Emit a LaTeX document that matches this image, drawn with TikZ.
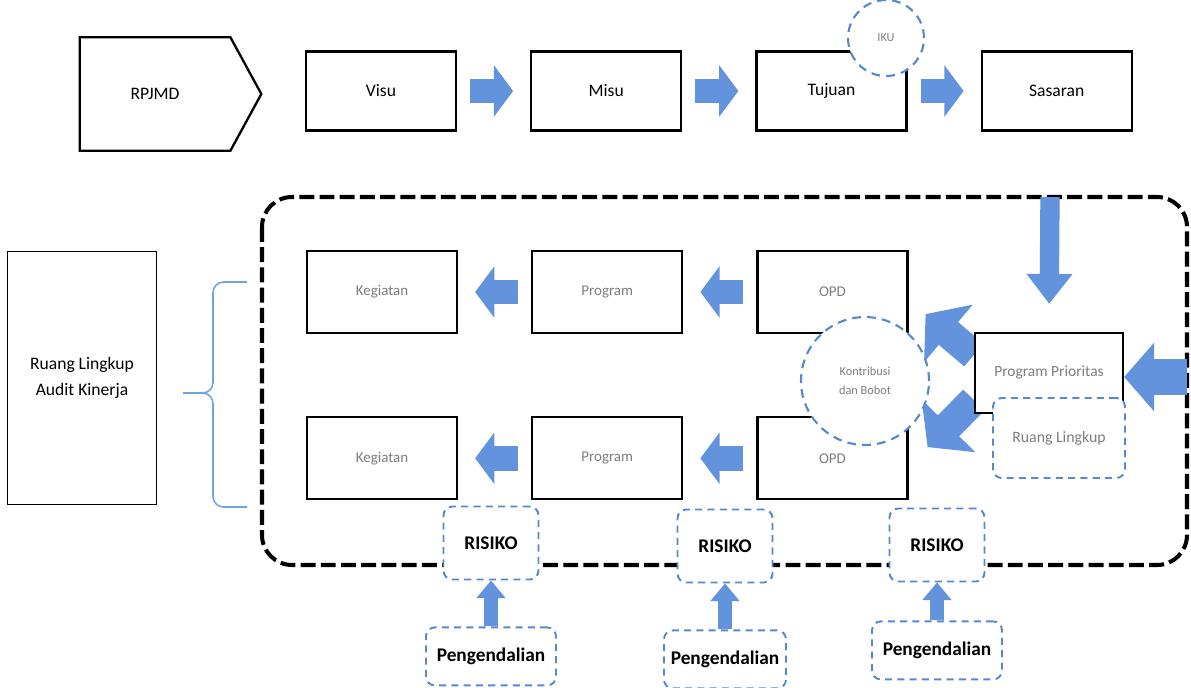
\documentclass[tikz,border=0pt]{standalone}
\usepackage{fontspec}
\setmainfont{Carlito}
\usepackage{xcolor}
\usetikzlibrary{arrows.meta,positioning,calc,backgrounds}

\definecolor{arrowblue}{RGB}{98,147,220}
\definecolor{dashblue}{RGB}{84,137,206}
\definecolor{bracecol}{RGB}{110,165,225}
\definecolor{labelgrey}{RGB}{125,125,125}

\tikzset{
  box/.style={rectangle, draw, line width=1.3pt, minimum width=3cm, minimum height=1.58cm, fill=white, font=\fontsize{10}{12}\selectfont},
  rowbox/.style={box, minimum height=1.64cm, text=labelgrey, font=\fontsize{8.5}{10}\selectfont},
  bluebox/.style={rectangle, draw=dashblue, line width=1.1pt, dash pattern=on 4pt off 3pt, rounded corners=5pt, fill=white},
  bluecircle/.style={circle, draw=dashblue, line width=1.2pt, dash pattern=on 5pt off 3.5pt, fill=white},
  riskbox/.style={bluebox, minimum width=1.9cm, minimum height=1.46cm, font=\fontsize{11}{13}\selectfont\bfseries},
  ctrlbox/.style={bluebox, minimum width=2.6cm, minimum height=1.16cm, font=\fontsize{11}{13}\selectfont\bfseries},
  frame/.style={line width=2.3pt, dash pattern=on 8.5pt off 3pt, rounded corners=0.6cm},
  bracket/.style={bracecol, line width=0.9pt, rounded corners=6pt},
  fatarrow/.style={arrowblue, line width=14pt, -{Triangle[width=29pt,length=11pt]}, shorten <=0.26cm, shorten >=0.34cm},
  diagarrow/.style={arrowblue, line width=17pt, -{Triangle[width=42pt,length=17pt]}},
  downarrow/.style={arrowblue, line width=11pt, -{Triangle[width=25pt,length=17pt]}},
  inarrow/.style={arrowblue, line width=20pt, -{Triangle[width=38pt,length=17pt]}},
  uparrow/.style={arrowblue, line width=8pt, -{Triangle[width=16pt,length=10pt]}}
}

\begin{document}
\begin{tikzpicture}[x=0.02cm, y=-0.02cm]
\useasboundingbox (0,0) rectangle (1191,687);

% dashed frame
\draw[frame] (262,197) rectangle (1187,565);
\coordinate (ftop) at (1050,197);
\coordinate (fright) at (1187,377);

% top row
\node[minimum width=3cm, minimum height=2.26cm, font=\fontsize{10}{12}\selectfont] (rpjmd) at (155,94) {RPJMD};
\draw[line width=1.3pt] (rpjmd.south west) |- (rpjmd.north east) -- ($(rpjmd.east)+(31,0)$) -- (rpjmd.south east) -- cycle;
\node[box] (visu) at (381,91) {Visu};
\node[box, right=1.46cm of visu] (misu) {Misu};
\node[box, right=1.46cm of misu] (tujuan) {Tujuan};
\node[box, right=1.46cm of tujuan] (sasaran) {Sasaran};
\node[bluecircle, minimum size=1.52cm, text=labelgrey, font=\fontsize{7}{8}\selectfont] (iku) at (886,38) {IKU};

\draw[fatarrow] (visu) -- (misu);
\draw[fatarrow] (misu) -- (tujuan);
\draw[fatarrow] (tujuan) -- (sasaran);

% left scope box
\node[rectangle, draw, line width=0.9pt, minimum width=2.98cm, minimum height=5.06cm, align=center, font=\fontsize{10}{15}\selectfont] (audit) at (82,378) {Ruang Lingkup\\Audit Kinerja};
\coordinate (btop) at (247,282);
\coordinate (bbot) at (247,507);
\coordinate (btip) at (183,393);
\draw[bracket] (btop) -| (213,393) -- (btip);
\draw[bracket] (bbot) -| (213,393) -- (btip);

% rows inside frame
\node[rowbox] (keg1) at (382,292) {Kegiatan};
\node[rowbox, right=1.46cm of keg1] (prog1) {Program};
\node[rowbox, right=1.46cm of prog1] (opd1) {OPD};
\node[rowbox, below=1.64cm of keg1] (keg2) {Kegiatan};
\node[rowbox, right=1.46cm of keg2] (prog2) {Program};
\node[rowbox, right=1.46cm of prog2] (opd2) {OPD};
\node[bluecircle, minimum size=2.56cm, align=center, text=labelgrey, font=\fontsize{7}{11}\selectfont] (kontrib) at (865,381) {Kontribusi\\dan Bobot};

\node[box, minimum width=2.96cm, minimum height=1.6cm, text=labelgrey, font=\fontsize{8.8}{10}\selectfont] (prio) at (1049,373) {Program Prioritas};
\node[bluebox, minimum width=2.64cm, minimum height=1.6cm, text=labelgrey, font=\fontsize{9}{10}\selectfont] (rlk) at (1059,438) {Ruang Lingkup};

\draw[fatarrow] (prog1) -- (keg1);
\draw[fatarrow] (opd1) -- (prog1);
\draw[fatarrow] (prog2) -- (keg2);
\draw[fatarrow] (opd2) -- (prog2);

\begin{scope}[on background layer]
\draw[diagarrow] ($(prio.west)+(0,-18)$) -- ($(opd1.south east)+(17,-20)$);
\draw[diagarrow] ($(prio.west)+(0,27)$) -- ($(opd2.north east)+(19,31)$);
\end{scope}
\draw[downarrow, shorten >=0.56cm] (ftop) -- (prio.north);
\draw[inarrow] (fright) -- (fright -| prio.east);

% risks and controls
\node[riskbox] (risiko1) at (491,543) {RISIKO};
\node[riskbox] (risiko2) at (725,546) {RISIKO};
\node[riskbox] (risiko3) at (937,545) {RISIKO};
\node[ctrlbox, below=0.92cm of risiko1] (peng1) {Pengendalian};
\node[ctrlbox, minimum width=2.44cm, below=0.92cm of risiko2] (peng2) {Pengendalian};
\node[ctrlbox, below=0.76cm of risiko3] (peng3) {Pengendalian};

\draw[uparrow] (peng1) -- (risiko1);
\draw[uparrow] (peng2) -- (risiko2);
\draw[uparrow] (peng3) -- (risiko3);
\end{tikzpicture}
\end{document}
